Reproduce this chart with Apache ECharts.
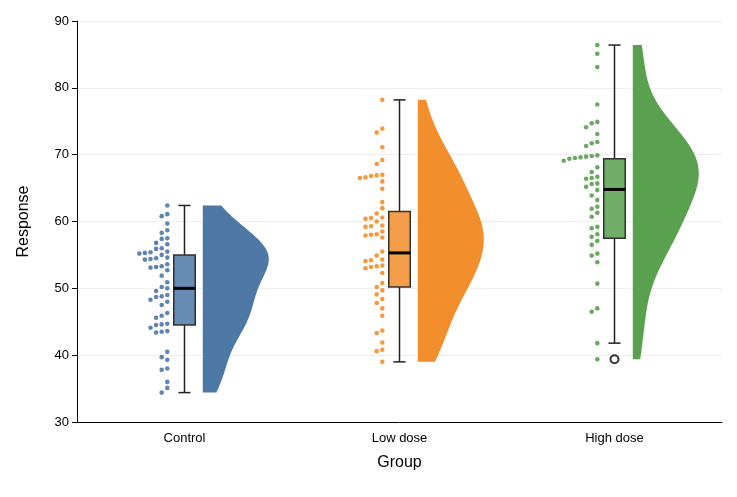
<!DOCTYPE html>
<html><head><meta charset="utf-8">
<script src="https://cdn.jsdelivr.net/npm/echarts@6/dist/echarts.min.js"></script>
<style>body{margin:0;background:#fff}#c{width:737px;height:497px}</style></head>
<body><div id="c"></div>
<script>
const categories = ['Control','Low dose','High dose'];
const colors = ['#4e79a7','#f28e2b','#59a14f'];
const yTicks = {min:30, max:90, interval:10};
const controlVals = [62.4,61.1,60.8,59.7,58.7,58.3,57.5,57.4,56.8,56.6,56.0,55.9,55.5,55.4,55.3,55.2,55.0,54.6,54.5,54.4,54.3,53.6,53.3,53.2,53.1,52.7,51.9,50.9,50.2,50.0,49.6,49.0,48.8,48.7,48.3,48.0,47.5,46.3,45.9,45.6,44.7,44.6,44.5,44.1,43.6,43.5,43.4,40.5,39.7,39.3,38.0,37.8,36.0,35.1,34.4];
const lowVals = [78.2,73.9,73.3,71.1,69.2,68.6,67.0,66.9,66.8,66.6,66.5,66.0,64.9,62.9,62.0,61.2,60.6,60.5,60.4,60.0,59.4,59.3,59.2,58.5,58.1,58.0,57.9,57.6,55.5,54.9,54.3,54.2,54.1,53.4,53.3,53.2,53.0,52.3,50.8,50.2,49.7,49.1,48.4,47.8,47.0,45.9,43.7,43.3,41.9,40.8,40.6,39.0];
const highVals = [86.4,85.1,83.1,77.5,74.9,74.7,74.1,73.1,71.9,71.7,71.3,69.9,69.8,69.7,69.6,69.5,69.4,69.1,68.1,67.4,66.7,66.5,66.4,65.7,65.6,65.2,64.7,63.9,63.2,62.2,61.9,61.3,60.7,59.2,59.0,58.1,57.7,57.1,56.5,55.2,54.9,53.9,50.7,47.0,46.5,41.8,39.4];
const groupVals = [controlVals, lowVals, highVals];
// box stats: [whiskerLow, Q1, median, Q3, whiskerHigh]
const boxStats = [[34.4,44.5,50.0,55.0,62.4],[39.0,50.2,55.3,61.5,78.2],[41.8,57.5,64.8,69.4,86.4]];
const outliers = [[2,39.4]];

const chart = echarts.init(document.getElementById('c'));
const pxPerUnitY = 401/60, pxPerCat = 215, dotD = 5.6;

// beeswarm to the left
const dotData = [];
groupVals.forEach((vals,g)=>{
  const sorted=[...vals].sort((a,b)=>b-a); const placed=[];
  sorted.forEach(v=>{
    let k=0;
    while(placed.some(p=>{const dy=(p.v-v)*pxPerUnitY, dx=(p.k-k)*dotD; return dx*dx+dy*dy<dotD*dotD;})) k++;
    placed.push({v,k});
    dotData.push({value:[g-0.08-k*dotD/pxPerCat, v], itemStyle:{color:colors[g]}});
  });
});

// KDE half violins
function kde(vals){
  const n=vals.length, m=vals.reduce((a,b)=>a+b)/n;
  const sd=Math.sqrt(vals.reduce((a,b)=>a+(b-m)*(b-m),0)/(n-1));
  const h=sd*Math.pow(n,-0.2);
  const lo=Math.min(...vals), hi=Math.max(...vals), pts=[];
  for(let i=0;i<=120;i++){const y=lo+(hi-lo)*i/120;
    let d=0; vals.forEach(v=>{const z=(y-v)/h; d+=Math.exp(-0.5*z*z);}); pts.push([y,d]);}
  const mx=Math.max(...pts.map(p=>p[1]));
  return pts.map(p=>[p[0],p[1]/mx]);
}
const violins = groupVals.map(kde);

const option = {
  animation:false,
  grid:{left:77,right:15,top:21,bottom:75},
  xAxis:[
    {type:'category',data:categories,name:'Group',nameLocation:'middle',nameGap:33,
     nameTextStyle:{fontSize:16,color:'#000',fontFamily:'Liberation Sans'},
     axisLine:{lineStyle:{color:'#000'}},axisTick:{alignWithLabel:true,lineStyle:{color:'#000'}},
     axisLabel:{fontSize:13,color:'#000',fontFamily:'Liberation Sans',margin:10},splitLine:{show:false}},
    {type:'value',min:-0.5,max:2.5,show:false}
  ],
  yAxis:{type:'value',min:yTicks.min,max:yTicks.max,interval:yTicks.interval,name:'Response',
    nameLocation:'middle',nameGap:45,nameTextStyle:{fontSize:16,color:'#000',fontFamily:'Liberation Sans'},
    axisLine:{show:true,onZero:false,lineStyle:{color:'#000'}},axisTick:{show:true,lineStyle:{color:'#000'}},
    axisLabel:{fontSize:13,color:'#000',fontFamily:'Liberation Sans'},splitLine:{lineStyle:{color:'#eeeeee'}}},
  series:[
    {type:'custom',xAxisIndex:1,data:violins.map((v,i)=>[i]),renderItem:(p,api)=>{
      const g=api.value(0); const pts=violins[g];
      const poly=pts.map(q=>api.coord([g+0.085+q[1]*0.307,q[0]]));
      for(let i=pts.length-1;i>=0;i--) poly.push(api.coord([g+0.085,pts[i][0]]));
      return {type:'polygon',shape:{points:poly},style:{fill:colors[g]}};
    }},
    {type:'custom',xAxisIndex:1,data:boxStats.map((b,i)=>[i].concat(b)),renderItem:(p,api)=>{
      const g=api.value(0), s=[1,2,3,4,5].map(i=>api.value(i));
      const bw=0.05, ln={stroke:'#222',lineWidth:1.5};
      const c=(x,y)=>api.coord([x,y]);
      const a=c(g-bw,s[3]), b=c(g+bw,s[1]);
      return {type:'group',children:[
        {type:'line',shape:{x1:c(g,s[0])[0],y1:c(g,s[0])[1],x2:c(g,s[1])[0],y2:c(g,s[1])[1]},style:ln},
        {type:'line',shape:{x1:c(g,s[3])[0],y1:c(g,s[3])[1],x2:c(g,s[4])[0],y2:c(g,s[4])[1]},style:ln},
        {type:'line',shape:{x1:c(g-0.028,s[0])[0],y1:c(g,s[0])[1],x2:c(g+0.028,s[0])[0],y2:c(g,s[0])[1]},style:ln},
        {type:'line',shape:{x1:c(g-0.028,s[4])[0],y1:c(g,s[4])[1],x2:c(g+0.028,s[4])[0],y2:c(g,s[4])[1]},style:ln},
        {type:'rect',shape:{x:a[0],y:a[1],width:b[0]-a[0],height:b[1]-a[1]},style:{fill:colors[g],stroke:'#333',lineWidth:1.5}},
        {type:'rect',shape:{x:a[0]+1,y:a[1]+1,width:b[0]-a[0]-2,height:b[1]-a[1]-2},style:{fill:'rgba(255,255,255,0.15)'}},
        {type:'line',shape:{x1:a[0],y1:c(g,s[2])[1],x2:b[0],y2:c(g,s[2])[1]},style:{stroke:'#000',lineWidth:3}}
      ]};
    }},
    {type:'scatter',xAxisIndex:1,data:dotData,symbolSize:4.6,itemStyle:{opacity:0.9}},
    {type:'scatter',xAxisIndex:1,data:outliers,symbolSize:8,itemStyle:{color:'#fff',borderColor:'#000',borderWidth:2}}
  ]
};
chart.setOption(option);
</script></body></html>
